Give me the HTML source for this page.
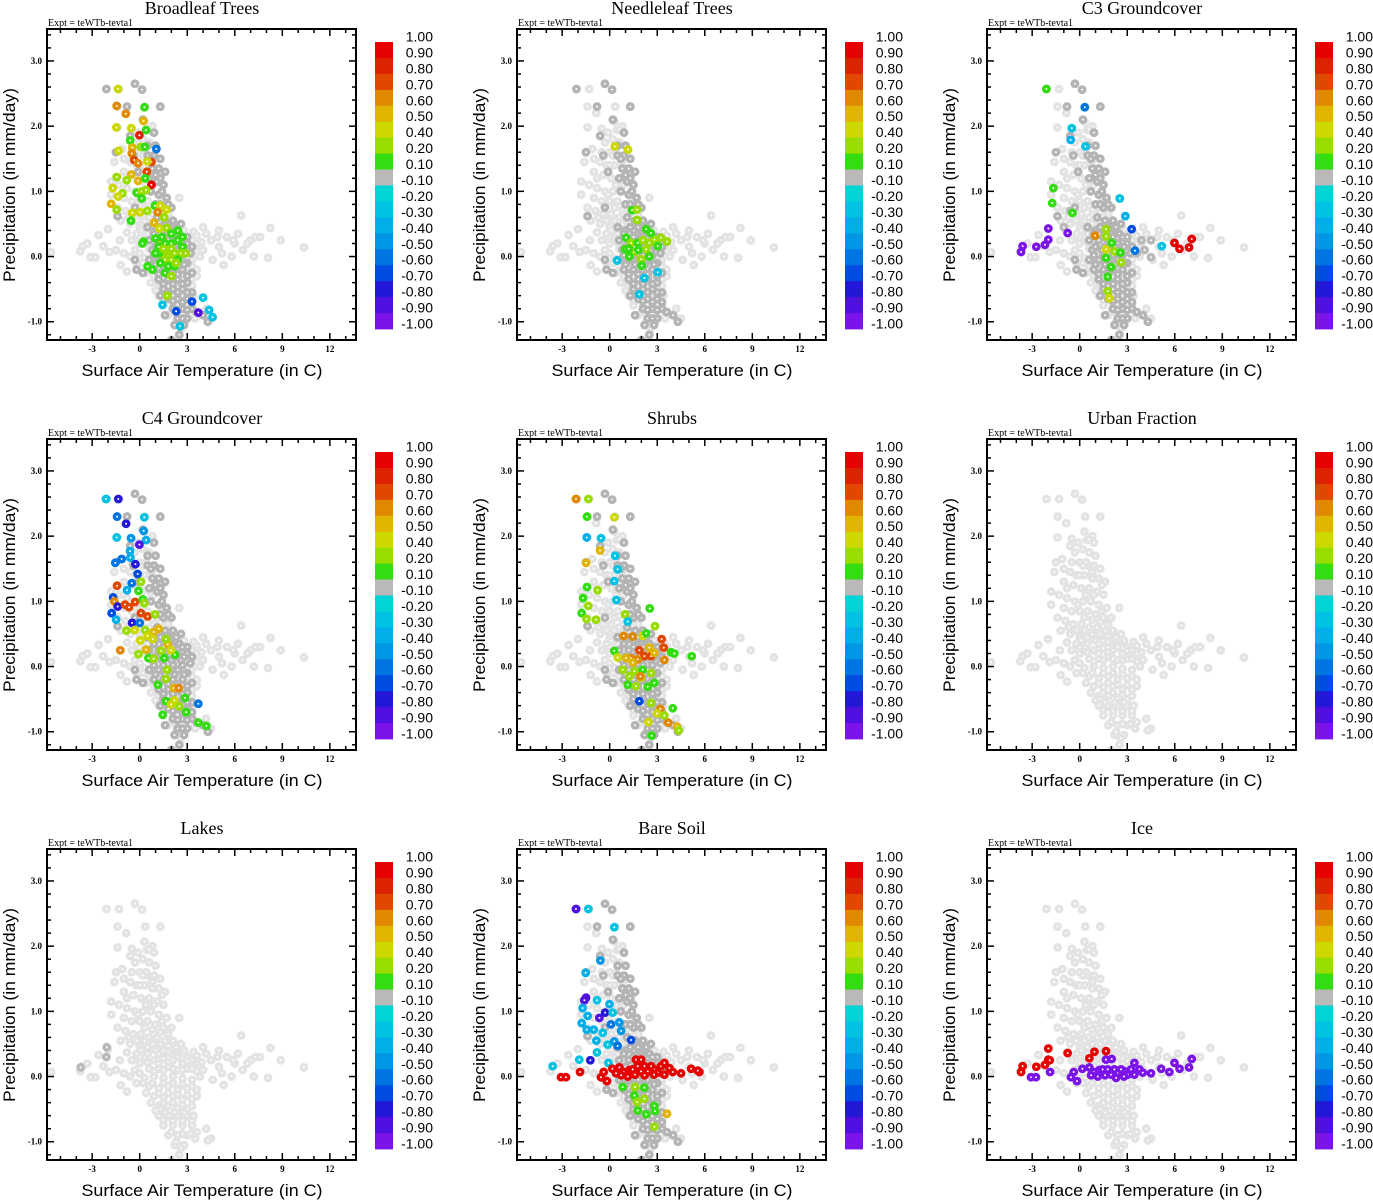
<!DOCTYPE html>
<html><head><meta charset="utf-8"><style>
html,body{margin:0;padding:0;background:#fff;}
svg{display:block;}
</style></head><body>
<svg id="fig" xmlns="http://www.w3.org/2000/svg" width="1373" height="1200" viewBox="0 0 1373 1200"></svg>
<script>
// ---- data ----
const panelTitles = ["Broadleaf Trees","Needleleaf Trees","C3 Groundcover","C4 Groundcover","Shrubs","Urban Fraction","Lakes","Bare Soil","Ice"];
const xTicks = [-3,0,3,6,9,12];
const yTicks = [3.0,2.0,1.0,0.0,-1.0];
const cbLabels = ["1.00","0.90","0.80","0.70","0.60","0.50","0.40","0.20","0.10","-0.10","-0.20","-0.30","-0.40","-0.50","-0.60","-0.70","-0.80","-0.90","-1.00"];
const cbBounds = [1.0,0.9,0.8,0.7,0.6,0.5,0.4,0.2,0.1,-0.1,-0.2,-0.3,-0.4,-0.5,-0.6,-0.7,-0.8,-0.9,-1.0];
const cbColors = ["#e60000","#dc2200","#e04800","#e08800","#e0b400","#ccd800","#99dd00","#33dd11","#b9b9b9","#00d4d4","#00c2e2","#00aee8","#0096e6","#0074e0","#004ce0","#2418d8","#5010e0","#7a14e8"];
const cloud = [[-2.1,2.57],[-1.3,2.57],[-0.3,2.65],[0.15,2.56],[-1.4,2.3],[-0.85,2.2],[0.35,2.3],[1.3,2.3],[0.3,2.07],[-1.4,1.98],[-0.5,1.96],[0.45,1.94],[0.9,1.9],[-0.6,1.85],[-0.3,1.75],[0.2,1.8],[0.6,1.75],[1.0,1.7],[-1.5,1.6],[-1.1,1.65],[-0.5,1.6],[0.0,1.6],[0.5,1.55],[0.9,1.55],[1.3,1.5],[-1.6,1.45],[-0.6,1.45],[-0.2,1.4],[0.3,1.4],[0.8,1.35],[1.2,1.35],[1.6,1.3],[-1.0,1.3],[-0.4,1.25],[0.1,1.2],[0.6,1.2],[1.1,1.15],[1.5,1.1],[-1.8,1.15],[-1.3,1.1],[-0.8,1.05],[-0.3,1.0],[0.2,1.0],[0.7,1.0],[1.2,0.95],[1.7,0.9],[-1.8,0.95],[-1.0,0.9],[-0.5,0.85],[0.0,0.85],[0.5,0.85],[1.0,0.8],[1.5,0.75],[2.0,0.75],[2.5,0.9],[-1.4,0.75],[-0.9,0.7],[-0.4,0.65],[0.1,0.65],[0.6,0.6],[1.1,0.6],[1.6,0.55],[2.1,0.55],[2.6,0.5],[-0.6,0.5],[0.0,0.45],[0.5,0.45],[1.0,0.4],[1.5,0.4],[2.0,0.35],[2.5,0.35],[3.0,0.3],
[0.3,0.3],[0.9,0.25],[1.5,0.28],[2.1,0.25],[2.7,0.2],[3.3,0.25],[0.6,0.12],[1.2,0.12],[1.8,0.15],[2.4,0.1],[3.0,0.12],[3.6,0.08],[0.3,-0.02],[0.9,0.0],[1.5,-0.02],[2.1,0.0],[2.7,-0.03],[3.3,-0.05],[0.6,-0.15],[1.2,-0.18],[1.8,-0.15],[2.4,-0.2],[3.0,-0.18],[3.6,-0.2],[0.9,-0.3],[1.5,-0.32],[2.1,-0.3],[2.7,-0.35],[3.3,-0.35],[1.2,-0.45],[1.8,-0.45],[2.4,-0.48],[3.0,-0.5],
[1.2,-0.6],[1.8,-0.6],[2.4,-0.6],[3.0,-0.6],[1.5,-0.75],[2.1,-0.75],[2.7,-0.75],[3.3,-0.75],[1.8,-0.9],[2.4,-0.9],[3.0,-0.9],[3.6,-0.85],[4.2,-0.8],[4.5,-0.95],[4.3,-0.98],[2.2,-1.05],[2.8,-1.05],[2.5,-1.2],[2.0,-1.28],[3.5,-0.95],[1.3,-0.5],
[3.6,0.2],[4.0,0.1],[4.5,0.25],[5.0,0.15],[5.5,0.3],[6.0,0.2],[6.5,0.1],[7.0,0.25],[7.3,0.3],[6.2,0.35],[5.2,0.05],[4.2,0.35],[3.8,0.0],[4.6,-0.05],[5.8,0.0],[5.3,-0.13],[7.2,0.0],[8.1,-0.02],[8.9,0.25],[8.25,0.44],[6.4,0.63],[10.36,0.14],[7.6,0.3],[6.8,0.2],[5.9,0.25],[4.9,0.3],[4.0,0.45],[5.0,0.4],
[-3.75,0.08],[-3.1,-0.01],[-2.8,-0.01],[-2.6,0.33],[-2.0,0.42],[-1.2,-0.13],[-0.8,-0.23],[-1.9,0.07],[-2.3,0.16],[-1.25,0.25],[-0.8,0.37],[-5.6,0.07],[-3.6,0.16],[-0.3,0.1],[-0.6,0.0],[-0.2,-0.1],[-0.5,0.25],[0.0,0.3],[-1.5,0.1],[-1.0,0.05],[-3.3,0.2],
[0.1,0.4],[0.5,0.35],[1.2,0.35],[1.8,0.38],[2.3,0.45],[2.8,0.4],[3.4,0.38],[0.0,0.2],[0.5,0.22],[1.2,0.2],[1.8,0.22],[2.4,0.3],[3.0,0.24],[3.6,0.32],[0.0,0.05],[0.9,0.08],[1.5,0.1],[2.1,0.12],[2.7,0.1],[3.3,0.12],[3.9,0.22],[0.2,-0.1],[0.8,-0.1],[1.5,-0.1],[2.1,-0.1],[2.7,-0.12],[3.3,-0.15],[0.4,-0.25],[1.2,-0.26],[1.8,-0.25],[2.4,-0.28],[3.0,-0.28],[3.6,-0.3],[0.7,-0.4],[1.5,-0.4],[2.1,-0.4],[2.7,-0.43],[3.3,-0.45],[1.0,-0.52],[1.6,-0.55],[2.2,-0.55],[2.8,-0.55],[3.4,-0.6],[1.5,-0.67],[2.1,-0.68],[2.7,-0.68],[3.3,-0.68],[2.0,-0.85],[2.7,-0.88],[3.2,-0.88],[2.3,-1.0],[2.6,-1.1],
[-1.0,1.5],[-0.8,1.2],[0.4,1.6],[0.0,1.4],[0.8,1.45],[1.4,1.25],[0.4,1.1],[0.9,1.1],[-0.1,0.95],[1.4,0.85],[0.3,0.75],[0.8,0.72],[1.3,0.68],[1.8,0.65],[-0.2,0.55],[0.3,0.55],[0.8,0.5],[1.3,0.5],[1.8,0.47],[-1.2,0.55],[-0.7,0.6],[-0.2,0.35],[0.8,2.0],[0.6,1.95],[-0.1,1.9],[0.2,1.55]];
const band = [[-2.1,2.57],[-0.3,2.65],[0.15,2.56],[1.3,2.3],[0.9,1.9],[-0.6,1.85],[1.0,1.7],[-1.5,1.6],[0.5,1.55],[0.9,1.55],[1.3,1.5],[0.8,1.35],[1.2,1.35],[1.6,1.3],[0.6,1.2],[1.1,1.15],[1.5,1.1],[0.7,1.0],[1.2,0.95],[1.7,0.9],[1.0,0.8],[1.5,0.75],[2.0,0.75],[-0.3,0.75],[1.1,0.6],[1.6,0.55],[2.1,0.55],[2.6,0.5],[-1.4,0.62],[0.5,0.45],[1.0,0.4],[1.5,0.4],[2.0,0.35],[2.5,0.35],[3.0,0.3],
[0.6,0.25],[1.2,0.25],[1.8,0.25],[2.4,0.2],[3.0,0.2],[0.8,0.1],[1.4,0.1],[2.0,0.1],[2.6,0.1],[3.2,0.05],[0.6,-0.05],[1.2,-0.05],[1.8,-0.05],[2.4,-0.05],[3.0,-0.1],[0.9,-0.2],[1.5,-0.2],[2.1,-0.2],[2.7,-0.2],[3.3,-0.25],[1.2,-0.35],[1.8,-0.35],[2.4,-0.35],[3.0,-0.4],[1.5,-0.5],[2.1,-0.5],[2.7,-0.5],[3.3,-0.55],[-0.3,-0.05],[-0.2,-0.2],[0.2,-0.25],
[1.8,-0.65],[2.4,-0.65],[3.0,-0.65],[2.1,-0.8],[2.7,-0.8],[3.3,-0.8],[2.4,-0.95],[3.0,-0.95],[3.6,-0.85],[2.2,-1.05],[2.8,-1.05],[2.5,-1.2],[2.0,-1.28],[4.0,-0.9],[4.3,-1.0],[1.3,-0.6],[1.6,-0.9],
[1.3,1.2],[1.0,1.25],[1.4,1.0],[1.3,0.8],[1.8,0.8],[1.3,0.45],[1.8,0.45],[2.3,0.45],[0.9,0.35],[1.5,0.3],[2.1,0.3],[2.7,0.3],[1.0,0.15],[1.6,0.15],[2.2,0.15],[2.8,0.15],[3.3,0.15],[0.9,0.02],[1.5,0.02],[2.1,0.02],[2.7,0.02],[1.0,-0.12],[1.6,-0.12],[2.2,-0.12],[2.8,-0.12],[1.2,-0.27],[1.8,-0.27],[2.4,-0.27],[3.0,-0.3],[1.5,-0.42],[2.1,-0.42],[2.7,-0.42],[1.8,-0.55],[2.4,-0.55],[3.0,-0.55],[2.1,-0.68],[2.7,-0.7],[3.3,-0.7],[2.4,-0.82],[3.0,-0.82],[2.7,-0.95],[0.5,1.7],[0.7,1.5],[-0.1,1.3],[-0.4,1.55],[0.2,2.1],[-0.8,2.3]];
const bandUsed = [true,true,true,true,true,false,false,true,false];
const ptsBroadleaf = [[-1.37,2.57,0.45],[-1.45,2.31,0.65],[-0.88,2.19,0.65],[0.3,2.29,0.15],[-1.47,1.98,0.45],[-0.53,1.97,0.5],[0.24,2.08,0.6],[0.4,1.94,0.15],[-0.02,1.86,0.85],[-0.6,1.78,0.15],[-0.47,1.67,0.6],[0.07,1.68,0.3],[0.32,1.68,0.15],[-1.33,1.62,0.45],[-0.5,1.58,0.65],[1.05,1.65,-0.5],[-0.35,1.48,0.75],[-0.1,1.43,0.65],[0.74,1.45,0.75],[0.48,1.46,0.45],[-0.53,1.26,0.55],[0.45,1.3,0.75],[-1.45,1.22,0.3],[-0.82,1.17,0.3],[-0.1,1.16,0.6],[0.35,1.2,0.15],[0.74,1.1,0.95],[-1.7,1.05,0.5],[-1.09,0.97,0.3],[-1.37,0.92,0.45],[-0.19,0.98,0.15],[0.13,1.0,0.35],[0.4,1.02,0.3],[0.13,0.89,0.15],[-1.8,0.81,0.55],[-1.45,0.72,0.3],[-0.47,0.67,0.5],[0.02,0.68,0.45],[0.48,0.7,0.3],[-0.55,0.55,0.15],[0.96,0.78,0.15],[1.3,0.78,0.45],[1.7,0.72,0.45],[1.13,0.68,0.65],[1.55,0.6,0.3],[0.9,0.52,0.6],[1.24,0.43,0.45],[1.7,0.44,0.3],[2.4,0.4,0.15],[1.43,0.26,0.6],[0.24,0.23,0.15],[1.0,0.28,0.15],[0.17,0.2,0.15],
[1.2,0.15,0.15],[1.6,0.2,0.15],[2.0,0.2,0.15],[2.4,0.25,0.15],[2.7,0.15,0.15],[1.4,0.05,0.3],[1.8,0.05,0.3],[2.2,0.05,0.3],[2.6,0.05,0.3],[1.6,-0.05,0.3],[2.0,-0.05,0.3],[2.4,-0.05,0.15],[1.3,-0.1,0.15],[1.8,-0.15,0.15],[2.2,-0.15,0.15],[1.6,-0.25,0.15],[2.0,-0.3,0.3],[0.5,-0.15,0.15],[0.8,-0.2,0.15],[1.8,0.1,0.3],[2.9,0.05,0.3],[1.2,0.05,0.15],[1.5,0.12,0.3],[2.0,0.12,0.3],[2.3,-0.1,0.3],[1.4,0.3,0.15],[2.7,0.3,0.15],[2.0,0.35,0.15],[1.0,0.05,0.15],
[1.43,-0.74,-0.25],[1.74,-0.6,0.3],[4.0,-0.63,-0.25],[3.7,-0.86,-0.85],[4.38,-0.82,-0.25],[4.6,-0.93,-0.25],[2.3,-0.84,-0.6],[3.3,-0.69,-0.6],[2.55,-1.07,-0.25]];
const ptsNeedleleaf = [[0.32,1.69,0.45],[1.16,1.64,0.45],[1.41,0.71,0.15],[1.73,0.72,0.35],[1.73,0.56,0.3],[2.3,0.42,0.15],[1.03,0.29,0.15],[1.35,0.21,0.3],[0.97,0.11,0.15],[1.56,0.07,0.3],[1.98,-0.04,0.3],[2.02,-0.14,0.15],[2.5,0.21,0.3],[2.82,0.26,0.3],[3.24,0.29,0.35],[3.62,0.23,0.35],[2.3,0.11,0.3],[1.77,0.21,0.15],[2.6,0.36,0.15],[3.03,0.16,0.15],[1.24,0.0,0.15],[2.5,0.0,0.15],[1.2,0.12,0.15],[1.8,0.1,0.15],[2.1,0.25,0.3],[0.46,-0.06,-0.25],[3.03,-0.24,-0.25],[1.87,-0.58,-0.25],[2.19,-0.33,-0.25]];
const ptsC3 = [[3.0,0.3,0],[3.9,0.25,0],[4.5,0.25,0],[4.5,-0.01,0],[3.6,0.05,0],[4.1,0.1,0],[-0.6,0.7,0],[-1.0,0.45,0],
[-2.1,2.57,0.15],[0.32,2.29,-0.55],[-0.5,1.97,-0.25],[-0.57,1.79,-0.3],[0.36,1.69,-0.25],[-1.66,1.05,0.15],[-1.73,0.82,0.15],[-0.46,0.67,0.15],[2.53,0.89,-0.25],[2.88,0.62,-0.3],[3.28,0.42,-0.65],[3.49,0.09,-0.55],[5.18,0.16,-0.25],[5.98,0.21,0.95],[6.3,0.12,0.95],[6.9,0.14,0.95],[7.07,0.27,0.95],[0.97,0.32,0.65],
[-3.7,0.07,-0.95],[-3.6,0.16,-0.95],[-2.74,0.15,-0.95],[-2.19,0.18,-0.95],[-1.98,0.26,-0.95],[-1.98,0.43,-0.95],[-0.76,0.36,-0.95],
[1.66,0.42,0.3],[1.66,0.31,0.3],[2.02,0.21,0.15],[1.66,0.11,0.45],[2.19,0.08,0.3],[2.57,0.06,0.15],[1.66,-0.02,0.15],[2.61,-0.09,0.3],[1.98,-0.16,0.15],[1.77,-0.31,0.15],[1.77,-0.53,0.3],[1.87,-0.64,0.45]];
const ptsC4 = [[-2.13,2.57,-0.25],[-1.35,2.57,-0.7],[-1.43,2.3,-0.5],[0.29,2.29,-0.25],[-0.86,2.19,-0.7],[0.25,2.08,-0.4],[-1.45,1.98,-0.25],[-0.55,1.97,-0.4],[0.4,1.94,-0.3],[-0.02,1.87,-0.85],[-0.61,1.77,-0.3],[-0.59,1.67,-0.3],[-1.54,1.59,-0.5],[-1.14,1.65,-0.5],[-0.27,1.57,-0.7],[-0.13,1.42,-0.6],[-0.5,1.28,-0.5],[-0.8,1.17,-0.35],[0.08,1.3,0.3],[-1.43,1.24,0.75],[-1.68,1.06,-0.6],[-1.6,1.0,0.65],[-1.39,0.92,-0.7],[-0.93,0.95,0.75],[-0.67,0.91,0.75],[-0.29,0.99,0.75],[-0.08,1.16,0.15],[0.19,1.03,0.15],[0.29,0.97,0.3],[-1.77,0.82,-0.6],[-1.49,0.72,-0.35],[0.08,0.82,0.75],[0.5,0.77,0.75],[-0.48,0.67,-0.7],[0.0,0.67,-0.55],[0.97,0.8,0.3],[-0.84,0.55,0.3],[-0.32,0.56,0.45],[0.34,0.56,0.3],[0.88,0.53,0.6],[1.2,0.58,0.6],[0.04,0.4,0.5],[0.5,0.47,0.5],[0.82,0.42,0.45],[1.77,0.34,0.55],[1.66,0.42,0.3],[-1.22,0.25,0.65],[-0.08,0.19,0.3],[0.4,0.26,0.55],[0.55,0.13,0.15],[0.88,0.12,0.3],[1.35,0.24,0.3],[1.56,0.13,0.15],[2.23,0.18,0.15],[1.98,0.25,0.45],[1.73,-0.05,0.3],[1.66,-0.19,0.3],[2.15,-0.33,0.6],[2.46,-0.33,0.65],[1.14,-0.28,0.15],[1.66,-0.53,0.15],[2.19,-0.52,0.45],[1.98,-0.58,0.45],[2.5,-0.61,0.3],[2.86,-0.48,0.15],[1.45,-0.74,0.15],[2.93,-0.7,0.15],[3.7,-0.86,0.15],[4.21,-0.91,0.15],[3.7,-0.57,-0.55]];
const ptsShrubs = [[-2.13,2.57,0.65],[-1.35,2.57,0.3],[-1.43,2.3,0.15],[0.29,2.29,0.45],[-1.45,1.98,-0.35],[-0.55,1.97,-0.25],[-0.61,1.78,0.55],[0.34,1.7,-0.25],[-1.49,1.59,0.55],[0.5,1.49,-0.25],[0.29,1.31,-0.25],[-1.43,1.22,0.15],[-0.76,1.17,0.3],[-1.68,1.05,0.15],[-1.35,0.93,0.3],[0.42,1.02,-0.25],[-1.77,0.82,0.15],[-1.47,0.73,0.3],[-0.86,0.72,0.3],[0.97,0.8,0.3],[1.14,0.69,-0.25],[2.53,0.89,0.15],[2.86,0.62,0.3],[0.88,0.47,0.65],[1.45,0.46,0.65],[2.08,0.47,0.45],[2.3,0.51,0.15],[3.28,0.42,0.8],[3.41,0.29,0.8],[1.87,0.25,0.8],[2.19,0.16,0.8],[2.61,0.16,0.75],[1.35,0.13,0.65],[1.77,0.11,0.65],[1.45,0.06,0.6],[2.5,0.29,0.55],[2.82,0.21,0.6],[0.29,0.24,0.15],[0.5,0.14,0.45],[1.03,0.13,0.55],[3.45,0.1,0.65],[3.87,0.22,0.15],[4.08,0.2,0.15],[5.18,0.16,0.15],[0.82,-0.05,0.3],[1.56,-0.07,0.3],[2.08,-0.05,0.15],[2.61,-0.1,0.3],[1.24,-0.15,0.3],[1.98,-0.17,0.45],[1.14,-0.28,0.15],[1.66,-0.3,0.3],[2.4,-0.31,0.15],[2.82,-0.25,0.15],[1.94,-0.15,0.65],[2.61,-0.56,0.3],[3.2,-0.65,0.65],[3.98,-0.64,0.15],[2.99,-0.72,0.45],[3.45,-0.75,0.3],[2.44,-0.85,0.45],[3.7,-0.86,0.65],[4.25,-0.92,0.55],[4.36,-0.98,0.3],[2.65,-1.06,0.15],[1.87,-0.53,-0.6]];
const ptsUrban = [];
const ptsLakes = [[-3.73,0.14,0],[-2.08,0.45,0],[-2.1,0.3,0]];
const ptsBareSoil = [[-2.13,2.57,-0.85],[-1.35,2.57,-0.25],[0.29,2.29,-0.25],[-0.59,1.78,-0.45],[-1.52,1.59,-0.35],[-1.49,1.21,-0.8],[-1.6,1.17,-0.85],[-0.8,1.17,-0.25],[-0.02,1.11,-0.3],[-1.71,1.05,-0.35],[-0.65,0.9,-0.85],[-0.29,0.98,-0.75],[-1.39,0.93,-0.3],[0.19,0.98,-0.25],[-1.77,0.82,-0.3],[-1.45,0.72,-0.3],[-1.01,0.72,-0.3],[-0.44,0.67,-0.25],[0.08,0.8,-0.5],[0.61,0.83,-0.45],[0.72,0.7,-0.45],[-0.84,0.55,-0.35],[-0.13,0.49,-0.25],[0.29,0.54,-0.45],[0.5,0.47,-0.5],[1.35,0.56,-0.65],[-0.8,0.37,-0.25],[-0.08,0.21,-0.25],[-1.22,0.25,-0.7],[-3.6,0.16,-0.25],[-1.92,0.26,-0.25],
[-3.07,-0.01,0.95],[-2.76,-0.01,0.95],[-1.87,0.07,0.95],[-0.55,-0.01,0.95],[-0.38,0.07,0.95],[-0.17,-0.07,0.95],[0.17,0.12,0.95],[0.61,0.14,0.95],[0.88,0.07,0.95],[1.24,0.1,0.95],[1.66,0.26,0.95],[1.98,0.26,0.95],[1.45,0.11,0.95],[1.98,0.08,0.95],[2.4,0.08,0.95],[2.82,0.11,0.95],[3.24,0.16,0.95],[3.45,0.21,0.95],[3.77,0.13,0.95],[3.98,0.07,0.95],[3.45,0.03,0.95],[3.03,0.06,0.95],[2.61,0.16,0.95],[2.19,0.16,0.95],[1.77,0.16,0.95],[1.14,0.0,0.95],[0.72,0.02,0.95],[4.5,0.05,0.95],[5.14,0.12,0.95],[5.66,0.07,0.95],[5.56,0.09,0.95],[1.6,0.03,0.95],[2.2,0.02,0.95],[2.8,0.03,0.95],[0.4,0.05,0.95],
[0.82,-0.16,0.15],[1.6,-0.16,0.3],[2.19,-0.17,0.15],[1.56,-0.29,0.15],[2.19,-0.34,0.3],[1.73,-0.39,0.3],[1.77,-0.52,0.15],[2.3,-0.58,0.15],[2.82,-0.45,0.15],[2.86,-0.53,0.15],[2.82,-0.77,0.3],[3.62,-0.57,0.55]];
const ptsIce = [[-3.07,-0.01,-0.95],[-2.76,-0.01,-0.95],[-1.87,0.07,-0.95],[-0.55,-0.01,-0.95],[-0.38,0.07,-0.95],[-0.17,-0.07,-0.95],[0.17,0.12,-0.95],[0.61,0.14,-0.95],[0.88,0.07,-0.95],[1.24,0.1,-0.95],[1.66,0.26,-0.95],[2.02,0.27,-0.95],[1.45,0.11,-0.95],[1.98,0.03,-0.95],[2.4,0.06,-0.95],[2.82,0.08,-0.95],[3.24,0.11,-0.95],[3.45,0.21,-0.95],[3.77,0.11,-0.95],[3.98,0.06,-0.95],[3.45,0.03,-0.95],[3.03,0.03,-0.95],[2.61,0.11,-0.95],[2.19,0.11,-0.95],[1.77,0.11,-0.95],[1.14,0.0,-0.95],[0.72,0.02,-0.95],[4.5,0.05,-0.95],[5.14,0.12,-0.95],[5.66,0.07,-0.95],[5.98,0.21,-0.95],[6.3,0.12,-0.95],[6.9,0.14,-0.95],[7.07,0.27,-0.95],[2.3,-0.02,-0.95],[1.6,0.02,-0.95],[2.8,0.0,-0.95],
[-3.7,0.07,0.95],[-3.6,0.16,0.95],[-2.74,0.15,0.95],[-2.19,0.18,0.95],[-1.98,0.26,0.95],[-1.98,0.43,0.95],[-0.76,0.36,0.95],[0.61,0.28,0.95],[0.93,0.38,0.95],[1.66,0.39,0.95],[-1.89,0.25,0.95]];
const panelPoints = [ptsBroadleaf,ptsNeedleleaf,ptsC3,ptsC4,ptsShrubs,ptsUrban,ptsLakes,ptsBareSoil,ptsIce];

// ---- drawing ----
const NS = "http://www.w3.org/2000/svg";
const svg = document.getElementById('fig');
function mk(tag, attrs, parent, txt){
  const e = document.createElementNS(NS, tag);
  for (const k in attrs) e.setAttribute(k, attrs[k]);
  if (txt !== undefined) e.textContent = txt;
  parent.appendChild(e);
  return e;
}
const BOX = {l:47, t:29, r:356, b:340};
const X0 = -5.85, X1 = 13.65, Y0 = -1.28, Y1 = 3.49;
function sx(v){ return BOX.l + (v - X0) / (X1 - X0) * (BOX.r - BOX.l); }
function sy(v){ return BOX.b - (v - Y0) / (Y1 - Y0) * (BOX.b - BOX.t); }
function colorFor(v){
  for (let i = 0; i < cbColors.length; i++){
    if (v <= cbBounds[i] && v > cbBounds[i+1]) return cbColors[i];
  }
  return v > 0 ? cbColors[0] : cbColors[cbColors.length-1];
}
const serif = '"Liberation Serif", serif';
const sans = '"Liberation Sans", sans-serif';
const R = 2.7, SW = 3.4;

panelTitles.forEach((title, idx) => {
  const col = idx % 3, row = Math.floor(idx / 3);
  const g = mk('g', {transform: `translate(${col*470},${row*410})`}, svg);
  const slug = title.toLowerCase().replace(/[^a-z0-9]+/g,'-');
  
  

  const tt = mk('text', {x: 202, y: 14, 'text-anchor':'middle', 'font-family': serif, 'font-size': 18}, g, title);
  
  
  const ex = mk('text', {x: 48, y: 26, 'font-family': serif, 'font-size': 10}, g, 'Expt = teWTb-tevta1');
  
  

  const cid = 'clip' + idx;
  const cp = mk('clipPath', {id: cid}, g);
  mk('rect', {x: BOX.l, y: BOX.t, width: BOX.r-BOX.l, height: BOX.b-BOX.t}, cp);
  const plot = mk('g', {'clip-path': `url(#${cid})`}, g);
  
  

  cloud.forEach(p => {
    const c = mk('circle', {cx: sx(p[0]), cy: sy(p[1]), r: R, fill: '#fff', stroke: '#e3e3e3', 'stroke-width': SW}, plot);
    
    
  });
  if (bandUsed[idx]) {
    band.forEach(p => {
      const c = mk('circle', {cx: sx(p[0]), cy: sy(p[1]), r: R, fill: '#fff', stroke: '#b4b4b4', 'stroke-width': SW}, plot);
      
      
    });
  }
  const pts = panelPoints[idx];
  pts.filter(p => Math.abs(p[2]) <= 0.1).concat(pts.filter(p => Math.abs(p[2]) > 0.1)).forEach(p => {
    const c = mk('circle', {cx: sx(p[0]), cy: sy(p[1]), r: R, fill: '#fff', stroke: colorFor(p[2]), 'stroke-width': SW}, plot);
    
    
  });

  const bx = mk('rect', {x: BOX.l, y: BOX.t, width: BOX.r-BOX.l, height: BOX.b-BOX.t, fill: 'none', stroke: '#000', 'stroke-width': 2}, g);
  
  

  const tk = mk('g', {stroke: '#000', 'stroke-width': 1.5}, g);
  
  
  for (let v = -5; v <= 13; v++){
    const major = (v % 3 === 0);
    const L = major ? 7 : 4, x = sx(v);
    mk('line', {x1: x, y1: BOX.b, x2: x, y2: BOX.b - L}, tk);
    mk('line', {x1: x, y1: BOX.t, x2: x, y2: BOX.t + L}, tk);
  }
  for (let k = -6; k <= 17; k++){
    const v = k * 0.2, major = (k % 5 === 0);
    const L = major ? 7 : 4, y = sy(v);
    mk('line', {x1: BOX.l, y1: y, x2: BOX.l + L, y2: y}, tk);
    mk('line', {x1: BOX.r, y1: y, x2: BOX.r - L, y2: y}, tk);
  }
  xTicks.forEach(v => {
    const t = mk('text', {x: sx(v), y: 352, 'text-anchor':'middle', 'font-family': serif, 'font-size': 9, 'font-weight':'bold'}, g, String(v));
    
    
  });
  yTicks.forEach(v => {
    const t = mk('text', {x: 42, y: sy(v) + 3, 'text-anchor':'end', 'font-family': serif, 'font-size': 9, 'font-weight':'bold'}, g, v.toFixed(1));
    
    
  });
  const xt = mk('text', {x: 202, y: 376, 'text-anchor':'middle', 'font-family': sans, 'font-size': 17, textLength: 241, lengthAdjust: 'spacingAndGlyphs'}, g, 'Surface Air Temperature (in C)');
  
  
  const yt = mk('text', {x: 0, y: 0, transform: 'translate(15,185) rotate(-90)', 'text-anchor':'middle', 'font-family': sans, 'font-size': 17, textLength: 194, lengthAdjust: 'spacingAndGlyphs'}, g, 'Precipitation (in mm/day)');
  
  

  const cb = mk('g', {}, g);
  
  
  const cbTop = 42, cbBot = 329, cbH = (cbBot - cbTop) / cbColors.length;
  cbColors.forEach((c, i) => {
    const r = mk('rect', {x: 375, y: cbTop + i*cbH, width: 18, height: cbH + 0.4, fill: c}, cb);
    
    
  });
  cbLabels.forEach((s, i) => {
    const t = mk('text', {x: 433, y: cbTop + i*cbH - 0.5, 'text-anchor':'end', 'font-family': sans, 'font-size': 14}, cb, s);
    
    
  });
});
</script>
</body></html>
